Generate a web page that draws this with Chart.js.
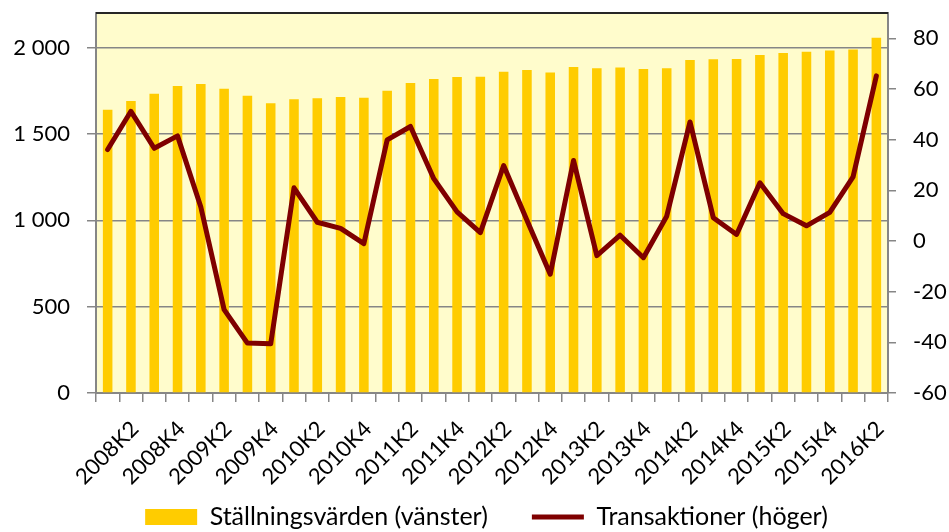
<!DOCTYPE html>
<html>
<head>
<meta charset="utf-8">
<script src="https://cdn.jsdelivr.net/npm/chart.js@4.4.0/dist/chart.umd.min.js"></script>
<style>
    html, body { margin: 0; padding: 0; background: #fff; }
    #chartcontainer { position: relative; width: 949px; height: 532px; }
</style>
</head>
<body>
<div id="chartcontainer">
    <canvas id="canvas"></canvas>
</div>
<script>
    var categories = [
        '2008K1', '2008K2', '2008K3', '2008K4',
        '2009K1', '2009K2', '2009K3', '2009K4',
        '2010K1', '2010K2', '2010K3', '2010K4',
        '2011K1', '2011K2', '2011K3', '2011K4',
        '2012K1', '2012K2', '2012K3', '2012K4',
        '2013K1', '2013K2', '2013K3', '2013K4',
        '2014K1', '2014K2', '2014K3', '2014K4',
        '2015K1', '2015K2', '2015K3', '2015K4',
        '2016K1', '2016K2'
    ];

    // Ställningsvärden, left axis
    var positionValues = [
        1640, 1690, 1733, 1777,
        1789, 1762, 1721, 1678,
        1700, 1707, 1713, 1709,
        1750, 1795, 1818, 1829,
        1831, 1860, 1870, 1855,
        1888, 1880, 1884, 1876,
        1880, 1928, 1932, 1934,
        1957, 1969, 1975, 1983,
        1988, 2056
    ];

    // Transaktioner, right axis
    var transactionValues = [
        36.1, 51.2, 36.6, 41.5,
        13.4, -27.1, -40.3, -40.6,
        21.0, 7.4, 5.0, -1.0,
        39.9, 45.2, 24.6, 11.5,
        3.3, 29.8, 8.2, -13.1,
        31.8, -5.8, 2.3, -6.6,
        9.8, 47.0, 9.2, 2.6,
        23.0, 10.8, 6.0, 11.3,
        25.3, 65.2
    ];

    var leftTicks = [0, 500, 1000, 1500, 2000];
    var rightTicks = [-60, -40, -20, 0, 20, 40, 60, 80];

    var barLabel = 'Ställningsvärden (vänster)';
    var lineLabel = 'Transaktioner (höger)';

    var barColor = '#FFCC00';
    var lineColor = '#7F0000';
    var axisGray = '#868686';
    var fontFamily = 'Lato, "Open Sans", sans-serif';

    function fmtThousands(v) {
        return String(v).replace(/\B(?=(\d{3})+(?!\d))/g, ' ');
    }

    var plotBackground = {
        id: 'plotBackground',
        afterLayout: function (chart) {
            // let the slanted x labels run into the legend band, nudge legend down/right
            chart.scales.x.bottom = chart.height;
            chart.legend.top += 7.5;
            chart.legend.bottom += 7.5;
            chart.legend.left += 8;
            chart.legend.right += 8;
        },
        beforeDraw: function (chart) {
            var a = chart.chartArea, c = chart.ctx;
            c.save();
            c.fillStyle = '#FFFCCC';
            c.fillRect(a.left, a.top, a.right - a.left, a.bottom - a.top);
            c.restore();
        },
        afterDraw: function (chart) {
            var a = chart.chartArea, c = chart.ctx;
            c.save();
            c.strokeStyle = '#262626';
            c.lineWidth = 2;
            c.beginPath();
            c.moveTo(a.left, a.top);
            c.lineTo(a.right, a.top);
            c.stroke();
            c.restore();
        }
    };

    var ctx = document.getElementById('canvas').getContext('2d');

    var config = {
        type: 'bar',
        data: {
            labels: categories,
            datasets: [
                {
                    type: 'line',
                    label: lineLabel,
                    data: transactionValues,
                    yAxisID: 'y1',
                    borderColor: lineColor,
                    backgroundColor: lineColor,
                    borderWidth: 5,
                    borderJoinStyle: 'round',
                    borderCapStyle: 'round',
                    pointRadius: 0,
                    tension: 0,
                    order: 0
                },
                {
                    type: 'bar',
                    label: barLabel,
                    data: positionValues,
                    yAxisID: 'y',
                    backgroundColor: barColor,
                    borderWidth: 0,
                    barPercentage: 0.41,
                    categoryPercentage: 1.0,
                    order: 1
                }
            ]
        },
        options: {
            responsive: true,
            maintainAspectRatio: false,
            animation: false,
            layout: {
                padding: { left: 8, right: 0, top: 13, bottom: 0 }
            },
            plugins: {
                tooltip: { enabled: false },
                legend: {
                    position: 'bottom',
                    labels: {
                        usePointStyle: true,
                        pointStyleWidth: 52,
                        boxHeight: 16,
                        padding: 44,
                        color: '#000',
                        font: { family: fontFamily, size: 25 },
                        generateLabels: function () {
                            return [
                                { text: barLabel, fillStyle: barColor, strokeStyle: barColor, lineWidth: 0,
                                  pointStyle: 'rect', hidden: false, datasetIndex: 1, fontColor: '#000' },
                                { text: lineLabel, fillStyle: lineColor, strokeStyle: lineColor, lineWidth: 5,
                                  pointStyle: 'line', hidden: false, datasetIndex: 0, fontColor: '#000' }
                            ];
                        }
                    }
                }
            },
            scales: {
                x: {
                    offset: true,
                    grid: {
                        offset: true,
                        drawOnChartArea: false,
                        drawTicks: true,
                        tickLength: 9,
                        color: axisGray,
                        lineWidth: 1.5
                    },
                    border: { color: axisGray, width: 2 },
                    ticks: {
                        autoSkip: false,
                        minRotation: 45,
                        maxRotation: 45,
                        padding: 14,
                        labelOffset: 4,
                        color: '#000',
                        font: { family: fontFamily, size: 22 },
                        callback: function (v, i) {
                            return i % 2 === 1 ? categories[i] : '';
                        }
                    },
                    afterFit: function (s) {
                        s.height = 60;
                        s.paddingLeft = 0;
                        s.paddingRight = 0;
                    }
                },
                y: {
                    position: 'left',
                    min: 0,
                    max: 2200,
                    afterBuildTicks: function (s) {
                        s.ticks = leftTicks.map(function (v) { return { value: v }; });
                    },
                    grid: {
                        color: axisGray,
                        lineWidth: 1.5,
                        tickLength: 9
                    },
                    border: { color: axisGray, width: 2 },
                    ticks: {
                        padding: 17,
                        color: '#000',
                        font: { family: fontFamily, size: 22 },
                        callback: function (v) { return fmtThousands(v); }
                    },
                    afterFit: function (s) {
                        s.width = 88;
                        s.paddingTop = 0;
                        s.paddingBottom = 0;
                    }
                },
                y1: {
                    position: 'right',
                    min: -60,
                    max: 90,
                    afterBuildTicks: function (s) {
                        s.ticks = rightTicks.map(function (v) { return { value: v }; });
                    },
                    grid: {
                        drawOnChartArea: false,
                        color: axisGray,
                        lineWidth: 1.5,
                        tickLength: 8
                    },
                    border: { color: axisGray, width: 2 },
                    ticks: {
                        padding: 17,
                        color: '#000',
                        font: { family: fontFamily, size: 22 }
                    },
                    afterFit: function (s) {
                        s.width = 61;
                        s.paddingTop = 0;
                        s.paddingBottom = 0;
                    }
                }
            }
        },
        plugins: [plotBackground]
    };

    var chart = new Chart(ctx, config);
</script>
</body>
</html>
